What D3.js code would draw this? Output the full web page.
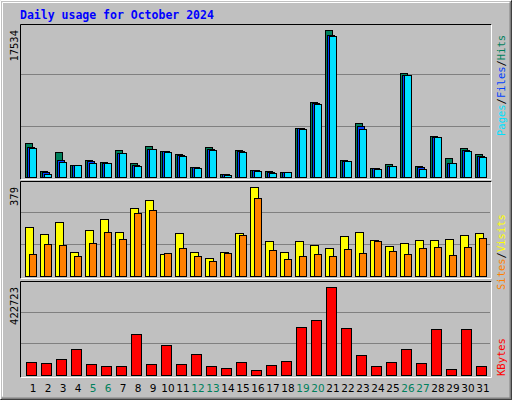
<!DOCTYPE html>
<html><head><meta charset="utf-8">
<script src="https://cdn.jsdelivr.net/npm/d3@7/dist/d3.min.js"></script>
<style>body{margin:0;background:#fff}svg{display:block}</style>
</head><body><svg id="c" width="512" height="400"></svg>
<script>
const days = d3.range(1,32);
const weekends = [5,6,12,13,19,20,26,27];
const hits  = [4046,754,3015,1468,2063,1825,3253,1706,3709,3134,2777,1230,3570,397,3253,872,754,635,5872,8967,17534,2063,6467,1111,1587,12416,1349,4839,2301,3491,2777];
const files = [3570,595,2063,1468,1944,1706,2897,1468,3372,3134,2658,1230,3372,397,3134,872,635,635,5872,8848,16939,1944,6110,1111,1349,12178,1230,4720,1706,3253,2539];
const pages = [3451,397,1825,1468,1706,1706,2897,1349,3372,3015,2539,1111,3253,278,3015,754,516,635,5753,8729,16820,1944,5753,991,1349,12178,991,4720,1706,3134,2420];
const visits = [210,177,230,103,194,243,186,289,322,95,182,103,78,103,182,379,148,103,148,132,120,169,189,152,128,140,152,152,156,173,182];
const sites  = [95,136,132,86,140,186,157,268,281,99,120,86,62,99,173,334,112,74,86,95,86,115,99,148,107,95,120,124,91,124,162];
const kbytes = [61700,57100,75600,126500,52400,43200,43200,195700,52400,145000,52400,98700,43200,33900,61700,24700,47800,66300,232700,265100,422723,223400,94100,43200,61700,126500,57100,218800,29300,218800,43200];
const maxHits=17534, maxVisits=379, maxK=422723;
const C={hits:"#00805c",files:"#0040ff",pages:"#00e0ff",visits:"#ffff00",sites:"#ff8000",kb:"#ff0000"};

const svg=d3.select("#c");
svg.append("rect").attr("width",512).attr("height",400).attr("fill","#c0c0c0");
svg.append("path").attr("d","M0.5,399.5V0.5H511.5").attr("stroke","#fff").attr("fill","none");
svg.append("path").attr("d","M511.5,0.5V399.5H0.5").attr("stroke","#000").attr("fill","none");
svg.append("path").attr("d","M1.5,398.5H510.5V1.5").attr("stroke","#808080").attr("stroke-width",2).attr("fill","none");
svg.append("path").attr("d","M2.5,396.5V2.5H509.5").attr("stroke","#fff").attr("fill","none");

svg.append("text").attr("x",20).attr("y",19).text("Daily usage for October 2024")
 .attr("font-family","DejaVu Sans Mono").attr("font-weight","bold").attr("font-size",11.5).attr("fill","#0000ff");

const x=d3.scaleBand().domain(days).range([25,490]);
function panel(top,bottom,maxv,maxLabel,series,labels,labelStart){
  const y=d3.scaleLinear().domain([0,maxv]).range([bottom,top+5]);
  const g=svg.append("g");
  const h=bottom-top+2;
  [1,2].forEach(k=>{const yy=Math.round(bottom-(h*k/3))+0.5;
    g.append("line").attr("x1",21).attr("x2",490).attr("y1",yy).attr("y2",yy).attr("stroke","#808080");});
  g.append("path").attr("d",`M20.5,${bottom+2.5}V${top-0.5}H491.5`).attr("stroke","#000").attr("fill","none");
  g.append("path").attr("d",`M491.5,${top-0.5}V${bottom+2.5}H20.5`).attr("stroke","#fff").attr("fill","none");
  series.forEach(s=>{
    g.selectAll(null).data(s.data).enter().append("rect")
     .attr("x",(d,i)=>x(days[i])+s.off+0.5).attr("width",s.w)
     .attr("y",d=>Math.round(y(d))+0.5).attr("height",d=>Math.max(0,bottom-Math.round(y(d))))
     .attr("fill",s.color).attr("stroke","#000");
  });
  g.append("text").attr("transform",`translate(18,${top+5}) rotate(-90)`).attr("text-anchor","end")
   .attr("font-family","DejaVu Sans Mono").attr("font-size",10.5).attr("fill","#000").text(maxLabel);
  const t=g.append("text").attr("transform",`translate(505,${labelStart}) rotate(-90)`)
   .attr("font-family","DejaVu Sans Mono").attr("font-size",10.5);
  labels.forEach((l,i)=>{ if(i) t.append("tspan").attr("fill","#000").text("/");
    t.append("tspan").attr("fill",l[1]).text(l[0]);});
}
panel(25,177,maxHits,String(maxHits),[
 {data:hits,color:C.hits,off:0,w:7},{data:files,color:C.files,off:2,w:7},{data:pages,color:C.pages,off:4,w:7}],
 [["Pages",C.pages],["Files",C.files],["Hits",C.hits]],136);
panel(182,276,maxVisits,String(maxVisits),[
 {data:visits,color:C.visits,off:0,w:8},{data:sites,color:C.sites,off:4,w:7}],
 [["Sites",C.sites],["Visits",C.visits]],290);
panel(282,375,maxK,String(maxK),[{data:kbytes,color:C.kb,off:1,w:10}],[["KBytes",C.kb]],376);

svg.selectAll(".dl").data(days).enter().append("text")
 .attr("x",d=>x(d)+8).attr("y",392).attr("text-anchor","middle")
 .attr("font-family","DejaVu Sans").attr("font-size",10.5)
 .attr("fill",d=>weekends.includes(d)?"#00805c":"#000").text(d=>d);
</script></body></html>
